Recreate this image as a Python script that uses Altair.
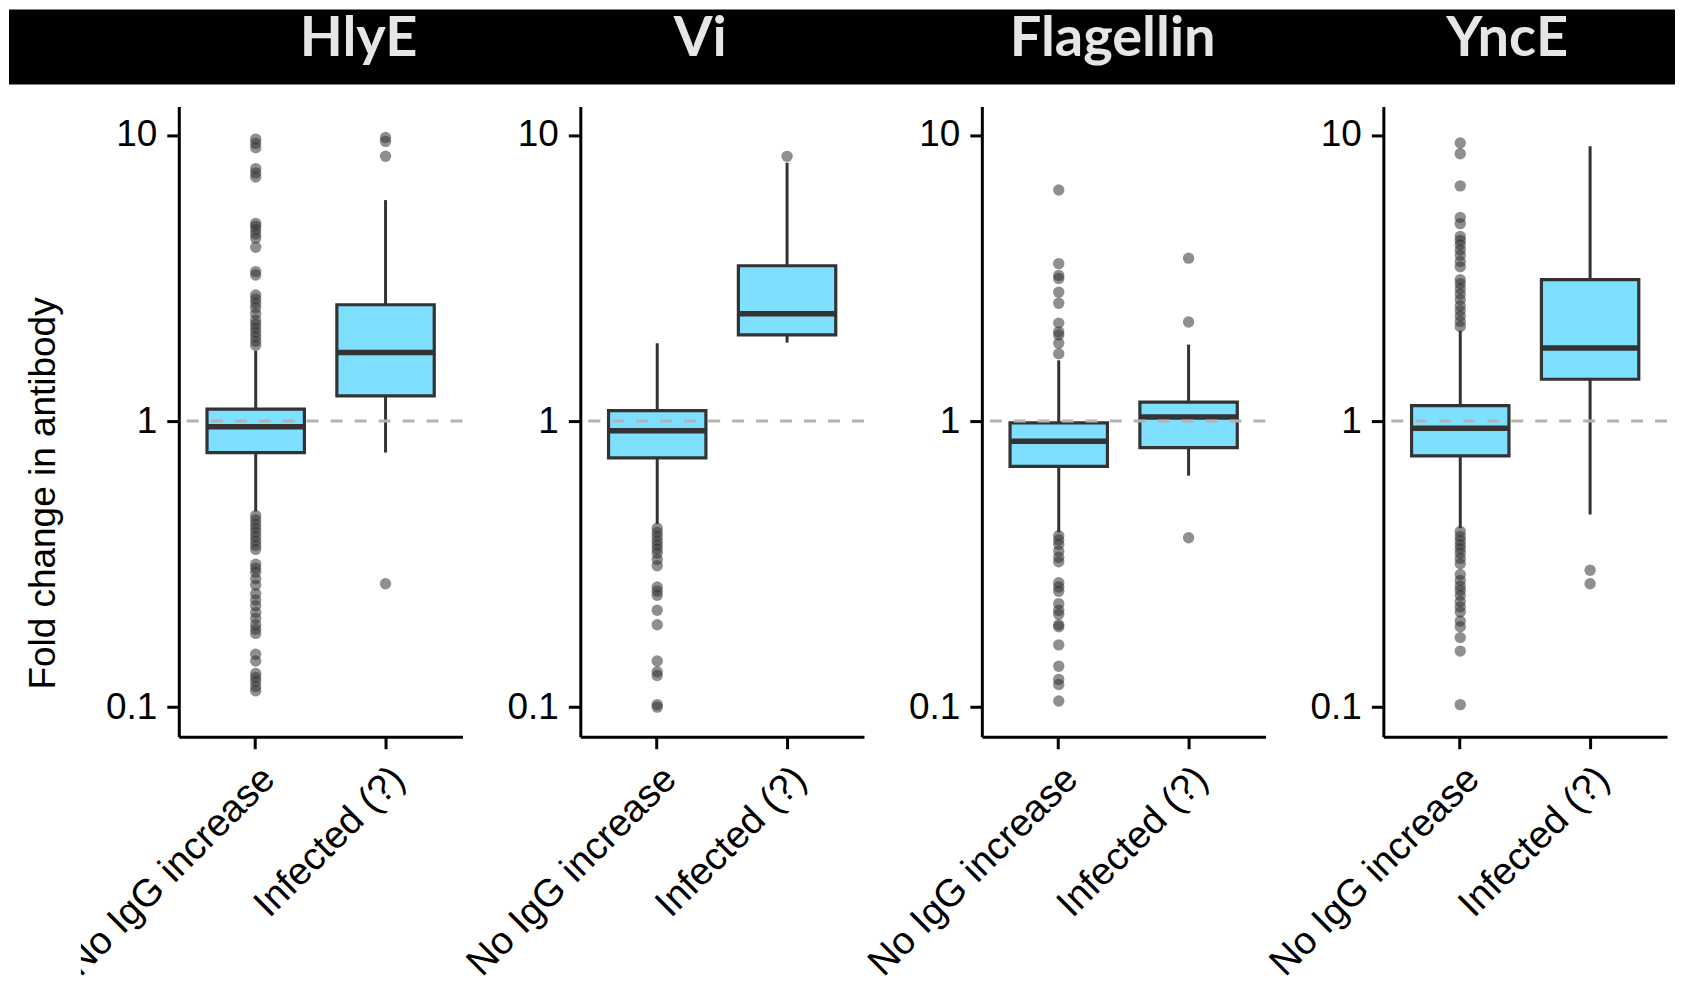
import altair as alt
import pandas as pd

antigens = ["HlyE", "Vi", "Flagellin", "YncE"]
groups = ["No IgG increase", "Infected (?)"]

# Box summaries, per antigen: [No IgG increase, Infected (?)]
whisker_low = [[0.483, 0.776], [0.437, 1.88], [0.408, 0.644], [0.422, 0.471]]
q1 = [[0.775, 1.225], [0.743, 2.00], [0.694, 0.808], [0.755, 1.40]]
median = [[0.955, 1.737], [0.925, 2.37], [0.850, 1.034], [0.944, 1.80]]
q3 = [[1.10, 2.55], [1.088, 3.49], [0.985, 1.164], [1.133, 3.12]]
whisker_high = [[1.76, 5.92], [1.87, 8.0], [1.63, 1.85], [2.07, 9.14]]

# Outlier points
hlye_no = [9.67, 9.35, 9.03, 7.63, 7.37, 7.13, 4.91, 4.80, 4.67, 4.51, 4.36, 4.05,
           3.33, 3.24, 2.76, 2.67, 2.58, 2.49, 2.37, 2.25, 2.18, 2.11, 2.04, 1.97,
           1.90, 1.84,
           0.467, 0.451, 0.436, 0.422, 0.408, 0.394, 0.381, 0.368, 0.356, 0.316,
           0.306, 0.296, 0.281, 0.267, 0.249, 0.237, 0.226, 0.214, 0.204, 0.194,
           0.187, 0.181, 0.153, 0.145, 0.131, 0.127, 0.123, 0.118, 0.114]
hlye_inf = [9.8, 9.5, 8.43, 0.27]
vi_no = [0.422, 0.408, 0.395, 0.381, 0.369, 0.357, 0.345, 0.328, 0.312, 0.263,
         0.254, 0.246, 0.218, 0.194, 0.145, 0.133, 0.129, 0.102, 0.100]
vi_inf = [8.42]
flag_no = [6.42, 3.55, 3.23, 3.15, 2.82, 2.58, 2.20, 2.05, 2.00, 1.87, 1.72,
           0.397, 0.384, 0.371, 0.351, 0.334, 0.322, 0.272, 0.263, 0.254, 0.230,
           0.218, 0.211, 0.194, 0.191, 0.165, 0.139, 0.125, 0.120, 0.105]
flag_inf = [3.71, 2.22, 0.391]
ynce_no = [9.38, 8.60, 6.64, 5.15, 4.90, 4.42, 4.28, 4.13, 3.96, 3.80, 3.61, 3.46,
           3.12, 3.02, 2.90, 2.78, 2.66, 2.53, 2.43, 2.33, 2.23, 2.14,
           0.411, 0.395, 0.382, 0.369, 0.357, 0.345, 0.331, 0.317, 0.291, 0.277,
           0.265, 0.256, 0.246, 0.234, 0.224, 0.215, 0.200, 0.191, 0.175, 0.157,
           0.102]
ynce_inf = [0.301, 0.270]
outliers = [[hlye_no, hlye_inf], [vi_no, vi_inf], [flag_no, flag_inf], [ynce_no, ynce_inf]]

reference_level = [1.0]

# ---- tables ----
box_rows = []
pt_rows = []
for i, ag in enumerate(antigens):
    for j, g in enumerate(groups):
        box_rows.append(dict(antigen=ag, group=g, lo=whisker_low[i][j], q1=q1[i][j],
                             med=median[i][j], q3=q3[i][j], hi=whisker_high[i][j]))
        for v in outliers[i][j]:
            pt_rows.append(dict(antigen=ag, group=g, v=v))
box_df = pd.DataFrame(box_rows)
pt_df = pd.DataFrame(pt_rows)
ref_df = pd.DataFrame({"ref": reference_level})
one_df = pd.DataFrame({"a": [0]})

FONT = "Liberation Sans"
DARK = "#333333"
FILL = "#7FDFFF"

yscale = alt.Scale(type="log", domain=[0.0788, 12.58], nice=False)
xscale = alt.Scale(domain=groups, paddingInner=0.25, paddingOuter=0.2173)

title_x = [180, 120, 131, 124]


def panel(i, ag):
    if i == 0:
        yaxis = alt.Axis(values=[0.1, 1, 10], format="~g", labelFontSize=37, labelPadding=10,
                         labelFlush=False, labelOverlap=False,
                         title="Fold change in antibody", titleFontSize=37,
                         titleX=-135, titleY=387, titleAngle=-90, titleAlign="center",
                         titleBaseline="middle")
    else:
        yaxis = alt.Axis(values=[0.1, 1, 10], format="~g", labelFontSize=37, labelPadding=10,
                         labelFlush=False, labelOverlap=False, title=None)
    xaxis = alt.Axis(title=None, labelAngle=-45, labelAlign="right", labelBaseline="top",
                     labelFontSize=38.5, labelPadding=11, labelLimit=400, labelOverlap=False)
    X = alt.X("group:N", sort=groups, scale=xscale, axis=xaxis)

    bdf = box_df[box_df.antigen == ag]
    pdf = pt_df[pt_df.antigen == ag]

    layers = []
    if i == 0:
        layers.append(alt.Chart(one_df).mark_rect(color="black").encode(
            x=alt.value(-170), x2=alt.value(1498), y=alt.value(-97), y2=alt.value(-22)))

    layers.append(alt.Chart(bdf).mark_rule(color=DARK, strokeWidth=3).encode(
        x=X, y=alt.Y("lo:Q", scale=yscale, axis=yaxis), y2="hi:Q"))
    layers.append(alt.Chart(bdf).mark_bar(fill=FILL, stroke=DARK, strokeWidth=3.2).encode(
        x=X, y=alt.Y("q1:Q", scale=yscale, axis=yaxis), y2="q3:Q"))
    layers.append(alt.Chart(bdf).mark_tick(color=DARK, thickness=5.5, size=97, opacity=1).encode(
        x=X, y=alt.Y("med:Q", scale=yscale, axis=yaxis)))
    layers.append(alt.Chart(pdf).mark_circle(size=130, color=DARK, opacity=0.55).encode(
        x=X, y=alt.Y("v:Q", scale=yscale, axis=yaxis)))
    layers.append(alt.Chart(ref_df).mark_rule(color="#b3b3b3", strokeWidth=3,
                                              strokeDash=[12, 12]).encode(
        y=alt.Y("ref:Q", scale=yscale, axis=yaxis)))
    layers.append(alt.Chart(one_df).mark_text(font="Lato", fontSize=56, fontWeight="bold",
                                              color="#e6e6e6", align="center",
                                              baseline="alphabetic").encode(
        x=alt.value(title_x[i]), y=alt.value(-51), text=alt.value(ag)))
    if i == 0:
        layers.append(alt.Chart(one_df).mark_rect(color="white").encode(
            x=alt.value(-170), x2=alt.value(-98), y=alt.value(645), y2=alt.value(868)))
    return alt.layer(*layers).properties(width=284, height=631)


chart = alt.hconcat(*[panel(i, ag) for i, ag in enumerate(antigens)],
                    spacing=118, bounds="flush", padding=0).configure_view(
    stroke="transparent"
).configure_axis(
    domainColor="black", domainWidth=3, tickColor="black", tickWidth=3, tickSize=12,
    labelFont=FONT, labelColor="black", titleFont=FONT, titleColor="black",
    titleFontWeight="normal", grid=False
)

chart.save("out.html", embed_options={"renderer": "svg", "actions": False})
